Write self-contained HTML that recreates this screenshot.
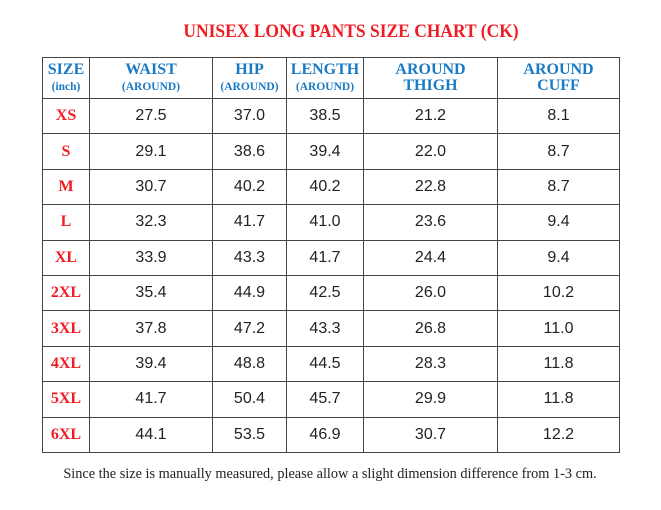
<!DOCTYPE html>
<html><head><meta charset="utf-8"><style>
body{margin:0;width:661px;height:510px;background:#fff;position:relative;overflow:hidden}
.t{position:absolute;left:133px;top:21px;width:436px;text-align:center;font:bold 19px "Liberation Serif",serif;color:#f01c24;white-space:nowrap;transform:scaleX(0.92)}
table{position:absolute;left:42px;top:57px;border-collapse:collapse;table-layout:fixed}
td{border:1.5px solid #444;text-align:center;padding:0;height:34.4px;font:16px "Liberation Sans",sans-serif;color:#222}
tr.h td{height:40px;color:#1a7ac4;font:bold 16px "Liberation Serif",serif;line-height:16px}
tr.h small{font-size:11.5px}
td.s{color:#f01c24;font:bold 16px "Liberation Serif",serif}
.f{position:absolute;left:30px;top:466px;width:600px;text-align:center;font:14.3px "Liberation Serif",serif;color:#222;white-space:nowrap}
</style></head><body>
<div class="t">UNISEX LONG PANTS SIZE CHART (CK)</div>
<table>
<colgroup><col style="width:47px"><col style="width:123px"><col style="width:74px"><col style="width:77px"><col style="width:134px"><col style="width:122px"></colgroup>
<tr class="h"><td>SIZE<br><small>(inch)</small></td><td>WAIST<br><small>(AROUND)</small></td><td>HIP<br><small>(AROUND)</small></td><td>LENGTH<br><small>(AROUND)</small></td><td>AROUND<br>THIGH</td><td>AROUND<br>CUFF</td></tr>
<tr><td class="s">XS</td><td>27.5</td><td>37.0</td><td>38.5</td><td>21.2</td><td>8.1</td></tr>
<tr><td class="s">S</td><td>29.1</td><td>38.6</td><td>39.4</td><td>22.0</td><td>8.7</td></tr>
<tr><td class="s">M</td><td>30.7</td><td>40.2</td><td>40.2</td><td>22.8</td><td>8.7</td></tr>
<tr><td class="s">L</td><td>32.3</td><td>41.7</td><td>41.0</td><td>23.6</td><td>9.4</td></tr>
<tr><td class="s">XL</td><td>33.9</td><td>43.3</td><td>41.7</td><td>24.4</td><td>9.4</td></tr>
<tr><td class="s">2XL</td><td>35.4</td><td>44.9</td><td>42.5</td><td>26.0</td><td>10.2</td></tr>
<tr><td class="s">3XL</td><td>37.8</td><td>47.2</td><td>43.3</td><td>26.8</td><td>11.0</td></tr>
<tr><td class="s">4XL</td><td>39.4</td><td>48.8</td><td>44.5</td><td>28.3</td><td>11.8</td></tr>
<tr><td class="s">5XL</td><td>41.7</td><td>50.4</td><td>45.7</td><td>29.9</td><td>11.8</td></tr>
<tr><td class="s">6XL</td><td>44.1</td><td>53.5</td><td>46.9</td><td>30.7</td><td>12.2</td></tr>
</table>
<div class="f">Since the size is manually measured, please allow a slight dimension difference from 1-3 cm.</div>
</body></html>
